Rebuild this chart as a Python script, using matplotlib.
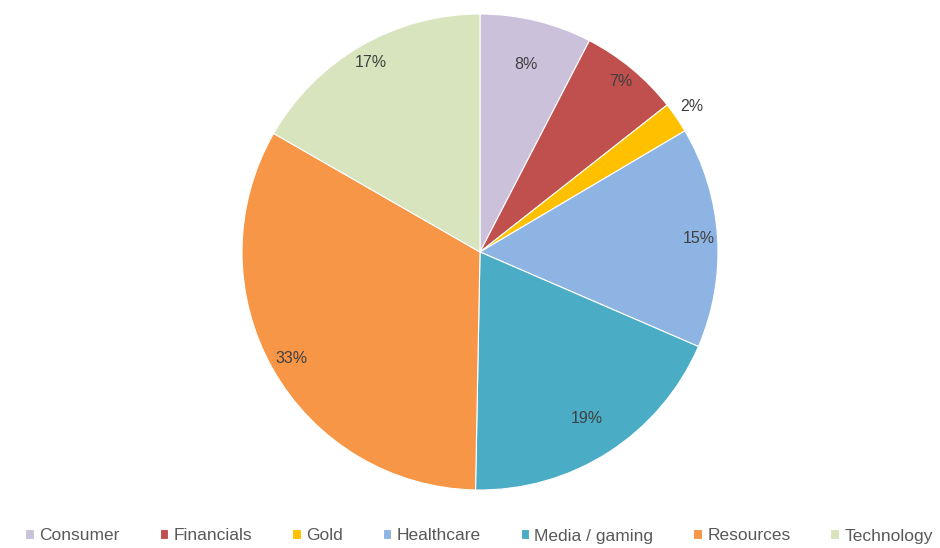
import numpy as np
import matplotlib.pyplot as plt

plt.rcParams['font.family'] = ['Liberation Sans', 'DejaVu Sans']

sectors = ['Consumer', 'Financials', 'Gold', 'Healthcare', 'Media / gaming', 'Resources', 'Technology']
weights = [7.6, 6.8, 2.1, 15.0, 18.8, 33.0, 16.7]   # share of portfolio
labels = ['8%', '7%', '2%', '15%', '19%', '33%', '17%']
colors = ['#CCC1DA', '#C0504D', '#FFC000', '#8EB4E3', '#4BACC6', '#F79646', '#D7E4BD']
label_r = [0.81, 0.93, 1.08, 0.92, 0.83, 0.91, 0.92]  # how far out each % label sits

fig = plt.figure(figsize=(9.4, 5.48), dpi=100)
ax = fig.add_axes([242/940, 58/548, 476/940, 476/548])

wedges, _ = ax.pie(weights, colors=colors, startangle=90, counterclock=False,
                   radius=1.0, wedgeprops=dict(edgecolor='white', linewidth=0.8))

total = sum(weights)
cum = 0.0
for w, lab, r in zip(weights, labels, label_r):
    mid = (cum + w / 2) / total * 360.0
    ang = np.deg2rad(90 - mid)
    ax.text(r * np.cos(ang), r * np.sin(ang), lab, ha='center', va='center',
            fontsize=11.5, color='#404040')
    cum += w

ax.set_xlim(-1, 1)
ax.set_ylim(-1, 1)
ax.set_aspect('equal')
ax.axis('off')

fig.legend(wedges, sectors, loc='center', bbox_to_anchor=(479/940, 12/548), ncol=7,
           frameon=False, fontsize=12.5, labelcolor='#595959', handlelength=0.5,
           handleheight=0.5, handletextpad=0.3, columnspacing=2.3)

fig.savefig('out.png', dpi=100)
